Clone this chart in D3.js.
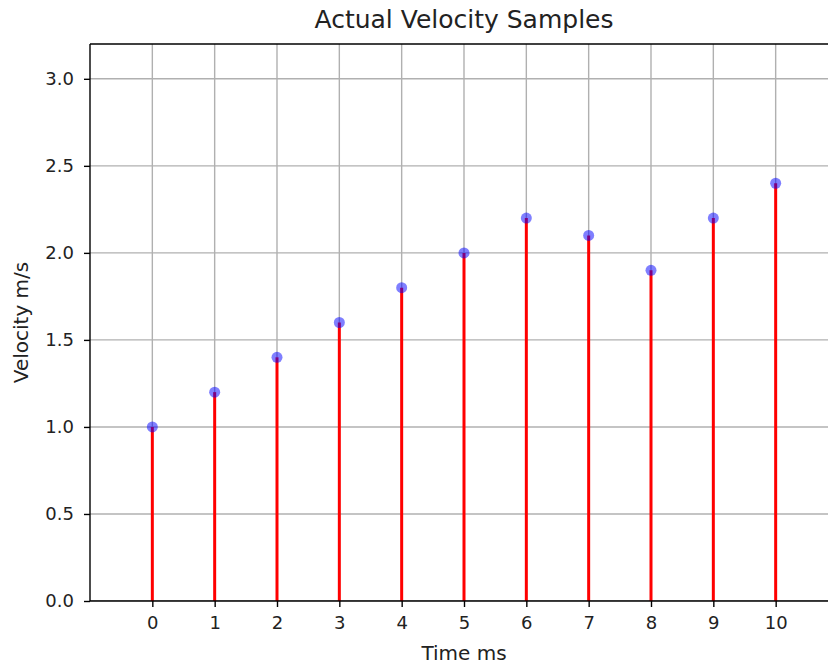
<!DOCTYPE html>
<html>
<head>
<meta charset="utf-8">
<script src="https://cdn.jsdelivr.net/npm/d3@7"></script>
<style>
  html, body { margin: 0; padding: 0; background: #fff; }
  svg { display: block; font-family: "DejaVu Sans", sans-serif; }
</style>
</head>
<body>
<svg id="chart" width="828" height="664"></svg>
<script>
const times = [0, 1, 2, 3, 4, 5, 6, 7, 8, 9, 10];
const velocities = [1.0, 1.2, 1.4, 1.6, 1.8, 2.0, 2.2, 2.1, 1.9, 2.2, 2.4];
const xTicks = [0, 1, 2, 3, 4, 5, 6, 7, 8, 9, 10];
const yTicks = [0.0, 0.5, 1.0, 1.5, 2.0, 2.5, 3.0];
const titleText = "Actual Velocity Samples";
const xLabel = "Time ms";
const yLabel = "Velocity m/s";

(function () {
const svg = d3.select("#chart");
const mLeft = 90, mTop = 44, mBottom = 601, mRight = 838;

const x = d3.scaleLinear().domain([-1, 11]).range([mLeft, mRight]);
const y = d3.scaleLinear().domain([0, 3.2]).range([mBottom, mTop]);

svg.append("defs").append("clipPath").attr("id", "clip")
  .append("rect").attr("x", mLeft).attr("y", mTop).attr("width", mRight - mLeft).attr("height", mBottom - mTop);

const plot = svg.append("g").attr("clip-path", "url(#clip)");

// grid
plot.selectAll(".vgrid").data(xTicks).enter().append("line")
  .attr("x1", d => x(d)).attr("x2", d => x(d))
  .attr("y1", mTop).attr("y2", mBottom)
  .attr("stroke", "#b0b0b0").attr("stroke-width", 1.4);
plot.selectAll(".hgrid").data(yTicks).enter().append("line")
  .attr("x1", mLeft).attr("x2", mRight)
  .attr("y1", d => y(d)).attr("y2", d => y(d))
  .attr("stroke", "#b0b0b0").attr("stroke-width", 1.4);

// stems
plot.selectAll(".stem").data(times).enter().append("line")
  .attr("x1", d => x(d)).attr("x2", d => x(d))
  .attr("y1", y(0)).attr("y2", (d, i) => y(velocities[i]))
  .attr("stroke", "#ff0000").attr("stroke-width", 3);

// markers
plot.selectAll(".mk").data(times).enter().append("circle")
  .attr("cx", d => x(d)).attr("cy", (d, i) => y(velocities[i]))
  .attr("r", 5.5)
  .attr("fill", "#0000ff").attr("fill-opacity", 0.5);

// axes
const xAxis = d3.axisBottom(x).tickValues(xTicks).tickFormat(d3.format("d")).tickSize(6).tickPadding(9);
const yAxis = d3.axisLeft(y).tickValues(yTicks).tickFormat(d3.format(".1f")).tickSize(6).tickPadding(10);

const gx = svg.append("g").attr("transform", `translate(0,${mBottom})`).call(xAxis);
const gy = svg.append("g").attr("transform", `translate(${mLeft},0)`).call(yAxis);
[gx, gy].forEach(g => {
  g.select(".domain").remove();
  g.selectAll(".tick line").attr("stroke", "#000").attr("stroke-width", 1.4);
  g.selectAll(".tick text").attr("fill", "#222").style("font-size", "18px").style("font-family", "DejaVu Sans");
});

// spines
svg.append("line").attr("x1", mLeft).attr("x2", mLeft).attr("y1", mTop).attr("y2", mBottom).attr("stroke", "#000").attr("stroke-width", 1.4);
svg.append("line").attr("x1", mLeft).attr("x2", mRight).attr("y1", mBottom).attr("y2", mBottom).attr("stroke", "#000").attr("stroke-width", 1.4);
svg.append("line").attr("x1", mLeft).attr("x2", mRight).attr("y1", mTop).attr("y2", mTop).attr("stroke", "#000").attr("stroke-width", 1.4);

// title & labels
svg.append("text").attr("x", 464).attr("y", 28).attr("text-anchor", "middle")
  .style("font-size", "25px").attr("fill", "#222").text(titleText);
svg.append("text").attr("x", x(5)).attr("y", 660).attr("text-anchor", "middle")
  .style("font-size", "20px").attr("fill", "#222").text(xLabel);
svg.append("text").attr("transform", `translate(28,${(mTop + mBottom) / 2}) rotate(-90)`).attr("text-anchor", "middle")
  .style("font-size", "20px").attr("fill", "#222").text(yLabel);
})();
</script>
</body>
</html>
